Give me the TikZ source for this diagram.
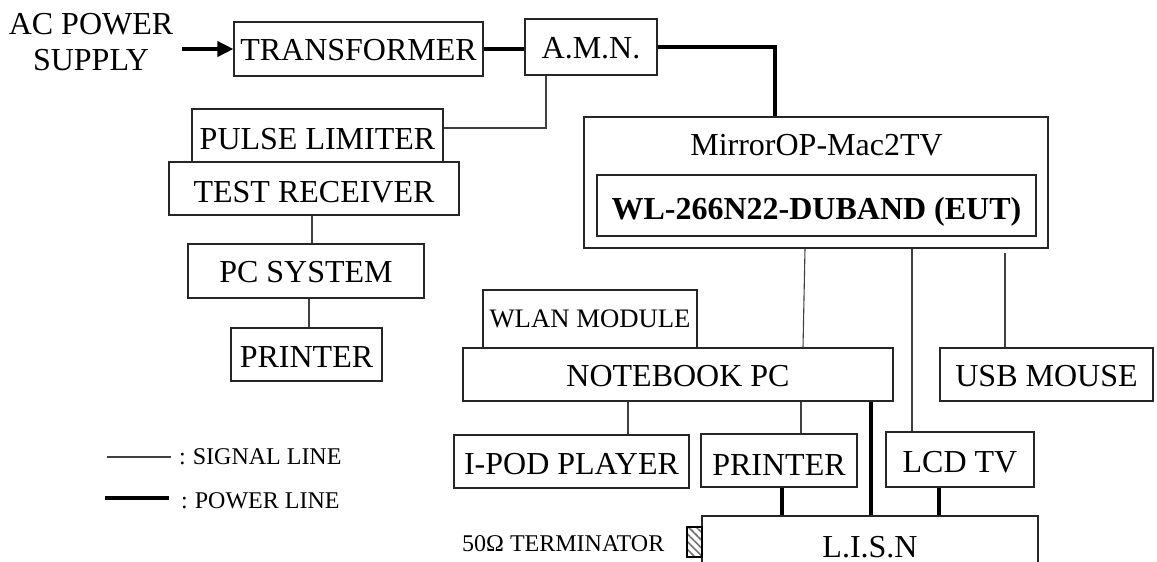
\documentclass[tikz,border=0pt]{standalone}
\usepackage{fontspec}
\setmainfont{Liberation Serif}
\usetikzlibrary{arrows.meta,patterns.meta}
\newcommand{\fs}[1]{\fontsize{#1}{#1}\selectfont}
\newcommand{\boxat}[7]{% name x1 y1 x2 y2 capcentre text
  \pgfmathsetmacro{\bw}{#4-#2}\pgfmathsetmacro{\bh}{#5-#3}
  \pgfmathsetmacro{\bd}{#6+10.5-(#3+#5)/2}
  \node[unit, minimum width=\bw pt, minimum height=\bh pt] (#1) at ({(#2+#4)/2},{(#3+#5)/2}) {\raisebox{-\bd pt}{#7}};}
\tikzset{
  unit/.style={draw=black!85, line width=1.1pt, inner sep=0pt, font=\fs{32}, fill=white, text height=0pt, text depth=0pt},
  signal/.style={draw=black!75, line width=1.1pt},
  power/.style={draw=black, line width=3.6pt},
  plain/.style={inner sep=0pt, font=\fontsize{32}{36}\selectfont, align=center},
  legend/.style={inner sep=0pt, anchor=base west, font=\fs{24}},
}
\begin{document}
\begin{tikzpicture}[x=1pt,y=-1pt]
\useasboundingbox (0,0) rectangle (1157,562);
\clip (0,0) rectangle (1157,562);
\fill[white] (0,0) rectangle (1157,562);
% x positions of vertical connectors
\foreach \n/\v in {xa/546,xb/775,xc/312,xd/309,xe/805,xe2/803,xf/912,xg/1005,xh/628,xi/801,xj/871,xk/782,xl/939}
  \coordinate (\n) at (\v,0);
\coordinate (yp) at (0,128);
\node[plain] (ac) at (91,42) {AC POWER\\SUPPLY};
\boxat{trans}{234}{22}{483}{76}{50}{TRANSFORMER}
\boxat{amn}{525}{19}{657}{75}{48}{A.M.N.}
\boxat{pulse}{192}{109}{443}{162}{139}{PULSE LIMITER}
\boxat{test}{169}{162}{459}{215}{192}{TEST RECEIVER}
\boxat{pc}{188}{244}{424}{298}{272}{PC SYSTEM}
\boxat{prn}{231}{328}{382}{381}{357}{PRINTER}
\boxat{mirror}{584}{117}{1048}{248}{145}{}
\node[plain, text height=0pt, text depth=0pt] (mtxt) at (816.5,145) {\raisebox{-10.5pt}{MirrorOP-Mac2TV}};
\boxat{eut}{597}{175}{1036}{236}{209}{\bfseries WL-266N22-DUBAND (EUT)}
\boxat{wlan}{483}{290}{697}{348}{316.5}{\fs{26.7}WLAN MODULE}
\boxat{nb}{463}{348}{893}{401}{376}{NOTEBOOK PC}
\boxat{usb}{940}{348}{1153}{401}{376}{USB MOUSE}
\boxat{ipod}{454}{435}{689}{488}{464}{I-POD PLAYER}
\boxat{prn2}{701}{434}{857}{487}{465}{PRINTER}
\boxat{lcd}{886}{432}{1034}{487}{462}{LCD TV}
\boxat{lisn}{702}{516}{1038}{580}{547}{L.I.S.N}
\node[draw=black, line width=1.1pt, inner sep=0pt, minimum width=15pt, minimum height=30pt,
  pattern={Lines[angle=-45,distance=5.5pt,line width=1.6pt]}, pattern color=black!55] (term) at (694.5,542) {};
\node[legend] (lterm) at (462,551) {50Ω TERMINATOR};
% connectors
\coordinate (acout) at (182,49);
\draw[power,-{Triangle[length=16pt,width=15pt]}] (acout) -- (trans.west |- acout);
\draw[power] (trans.east) -- (trans.east -| amn.west);
\draw[power] (amn.east) -- (amn.east -| xb) -- (mirror.north -| xb);
\draw[signal] (amn.south -| xa) -- (yp -| xa) -- (yp -| pulse.east);
\draw[signal] (test.south -| xc) -- (pc.north -| xc);
\draw[signal] (pc.south -| xd) -- (prn.north -| xd);
\draw[signal] (mirror.south -| xe) -- (nb.north -| xe2);
\draw[signal] (mirror.south -| xf) -- (lcd.north -| xf);
\draw[signal] ([yshift=-4pt]mirror.south -| xg) -- (usb.north -| xg);
\draw[signal] (nb.south -| xh) -- (ipod.north -| xh);
\draw[signal] (nb.south -| xi) -- (prn2.north -| xi);
\draw[power] (nb.south -| xj) -- (lisn.north -| xj);
\draw[power] (prn2.south -| xk) -- (lisn.north -| xk);
\draw[power] (lcd.south -| xl) -- (lisn.north -| xl);
% legend
\coordinate (s1) at (107,457); \coordinate (s2) at (171,457);
\coordinate (p1) at (105,498); \coordinate (p2) at (169,498);
\draw[signal] (s1) -- (s2);
\draw[power] (p1) -- (p2);
\node[legend] (lsig) at (179,464) {:\hspace{7pt}SIGNAL LINE};
\node[legend] (lpow) at (181,508) {:\hspace{7pt}POWER LINE};
\end{tikzpicture}
\end{document}
